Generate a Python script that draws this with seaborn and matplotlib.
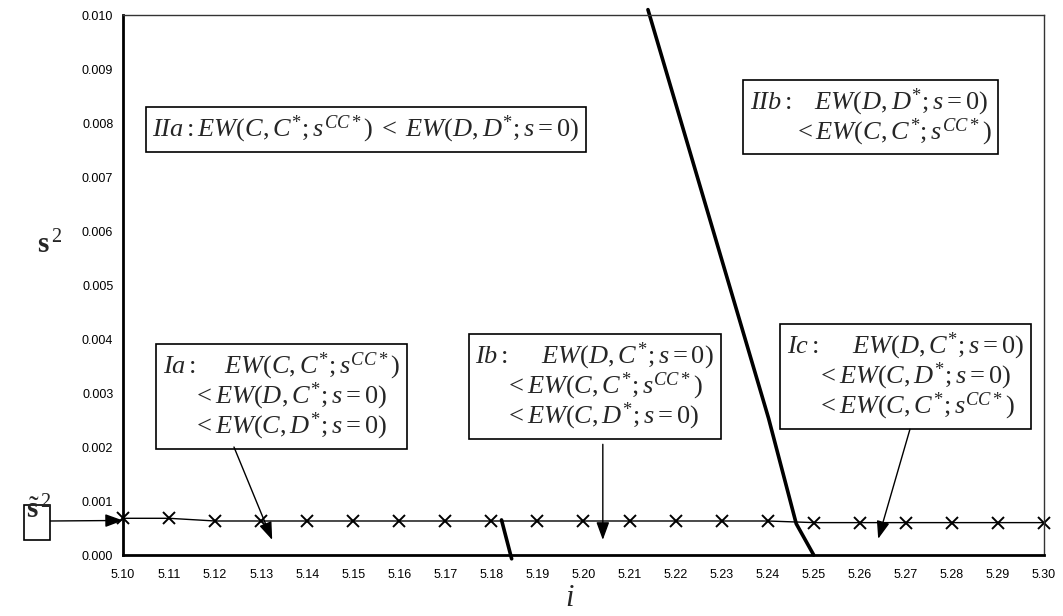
import numpy as np
import pandas as pd
import matplotlib
matplotlib.use("Agg")
import matplotlib.pyplot as plt
from matplotlib.patches import Rectangle
import seaborn as sns

# ---------------- data ----------------
rate = [5.10, 5.11, 5.12, 5.13, 5.14, 5.15, 5.16, 5.17, 5.18, 5.19, 5.20,
        5.21, 5.22, 5.23, 5.24, 5.25, 5.26, 5.27, 5.28, 5.29, 5.30]
sigma_tilde = [0.00068, 0.00068, 0.00063, 0.00063, 0.00063, 0.00063, 0.00063,
               0.00063, 0.00063, 0.00063, 0.00063, 0.00063, 0.00063, 0.00063,
               0.00063, 0.00060, 0.00060, 0.00060, 0.00060, 0.00060, 0.00060]

boundary_x = [5.2140, 5.2402, 5.2462, 5.2500]
boundary_y = [0.0101, 0.00253, 0.00058, 0.0]

short_x = [5.1822, 5.1844]
short_y = [0.00065, -0.00007]

xticks = [round(5.10 + 0.01 * k, 2) for k in range(21)]
xtick_labels = [f"{v:.2f}" for v in xticks]
yticks = [0.001 * k for k in range(11)]
ytick_labels = [f"{v:.3f}" for v in yticks]

# ---------------- style ----------------
sns.set_theme(style="white")
plt.rcParams['font.family'] = ['Liberation Sans', 'DejaVu Sans']
plt.rcParams['mathtext.fontset'] = 'custom'
plt.rcParams['mathtext.rm'] = 'Liberation Serif'
plt.rcParams['mathtext.it'] = 'Liberation Serif:italic'
plt.rcParams['mathtext.bf'] = 'Liberation Serif:bold'

fig = plt.figure(figsize=(10.63, 6.16), dpi=100)
ax = fig.add_axes([0.1157, 0.0990, 0.8664, 0.8766])

df_main = pd.DataFrame({"rate": rate, "sigma": sigma_tilde})
sns.lineplot(data=df_main, x="rate", y="sigma", ax=ax, color="black",
             linewidth=1.0, marker="x", markersize=9, markeredgewidth=1.4,
             markeredgecolor="black", estimator=None, sort=False)

df_b = pd.DataFrame({"x": boundary_x, "y": boundary_y})
sns.lineplot(data=df_b, x="x", y="y", ax=ax, color="black", linewidth=2.6,
             estimator=None, sort=False)
df_s = pd.DataFrame({"x": short_x, "y": short_y})
sns.lineplot(data=df_s, x="x", y="y", ax=ax, color="black", linewidth=2.6,
             estimator=None, sort=False)
for ln in ax.get_lines():
    ln.set_clip_on(False)

ax.set_xlim(5.10, 5.30)
ax.set_ylim(0.0, 0.010)
ax.set_xticks(xticks)
ax.set_xticklabels(xtick_labels)
ax.set_yticks(yticks)
ax.set_yticklabels(ytick_labels)
ax.tick_params(axis='both', direction='out', length=4, width=1, color='black',
               labelsize=9, labelcolor='black', pad=3)
ax.tick_params(axis='x', pad=6)
ax.set_xlabel("")
ax.set_ylabel("")

for side in ["left", "bottom"]:
    ax.spines[side].set_linewidth(2.0)
    ax.spines[side].set_color("black")
for side in ["top", "right"]:
    ax.spines[side].set_linewidth(1.0)
    ax.spines[side].set_color("#333333")

# axis titles
fig.text(570 / 1063, 1 - 606 / 616, r'$i$', fontsize=22, ha='center',
         va='baseline')
fig.text(37 / 1063, 1 - 253 / 616, r'$\mathbf{s}^{\,2}$', fontsize=21,
         ha='left', va='baseline')

# region boxes
box = dict(boxstyle='square,pad=0.25', fc='white', ec='black', lw=1.2)
fs = 19
ls = 0.95
ax.text(5.1528, 0.00788,
        r'$IIa: EW(C,C^{*};s^{CC*})\; <\; EW(D,D^{*};s=0)$',
        fontsize=fs, ha='center', va='center', bbox=box)
ax.text(5.2624, 0.00811,
        r'$IIb:\quad EW(D,D^{*};s=0)$' + '\n' +
        r'$\qquad\; < EW(C,C^{*};s^{CC*})$',
        fontsize=fs, ha='center', va='center', bbox=box,
        multialignment='left', linespacing=ls)
ax.text(5.1344, 0.00294,
        r'$Ia:\quad\; EW(C,C^{*};s^{CC*})$' + '\n' +
        r'$\quad\;\; < EW(D,C^{*};s=0)$' + '\n' +
        r'$\quad\;\; < EW(C,D^{*};s=0)$',
        fontsize=fs, ha='center', va='center', bbox=box,
        multialignment='left', linespacing=ls)
ax.text(5.2024, 0.00312,
        r'$Ib:\quad\;\; EW(D,C^{*};s=0)$' + '\n' +
        r'$\quad\;\; < EW(C,C^{*};s^{CC*})$' + '\n' +
        r'$\quad\;\; < EW(C,D^{*};s=0)$',
        fontsize=fs, ha='center', va='center', bbox=box,
        multialignment='left', linespacing=ls)
ax.text(5.2699, 0.00331,
        r'$Ic:\quad\;\; EW(D,C^{*};s=0)$' + '\n' +
        r'$\quad\;\; < EW(C,D^{*};s=0)$' + '\n' +
        r'$\quad\;\; < EW(C,C^{*};s^{CC*})$',
        fontsize=fs, ha='center', va='center', bbox=box,
        multialignment='left', linespacing=ls)

arrow = dict(arrowstyle='-|>,head_length=0.6,head_width=0.22', color='black',
             lw=1.0, mutation_scale=18, shrinkA=0, shrinkB=0)
ax.annotate('', xy=(5.1324, 0.00028), xytext=(5.1241, 0.00200),
            arrowprops=arrow)
ax.annotate('', xy=(5.2042, 0.00028), xytext=(5.2042, 0.00205),
            arrowprops=arrow)
ax.annotate('', xy=(5.2640, 0.00030), xytext=(5.2709, 0.00233),
            arrowprops=arrow)

# sigma-tilde marker box on the left
fig.patches.append(Rectangle((24 / 1063, 1 - 540 / 616), 26 / 1063, 35 / 616,
                             transform=fig.transFigure, fill=True,
                             fc='white', ec='black', lw=1.2))
fig.text(26 / 1063, 1 - 518 / 616, r'$\tilde{\mathbf{s}}^{\,2}$',
         fontsize=21, ha='left', va='baseline')
ax.annotate('', xy=(5.10, sigma_tilde[0] - 0.00004),
            xycoords='data',
            xytext=(50 / 1063, 1 - 521 / 616), textcoords='figure fraction',
            arrowprops=arrow, annotation_clip=False)

fig.savefig("out.png", dpi=100)
